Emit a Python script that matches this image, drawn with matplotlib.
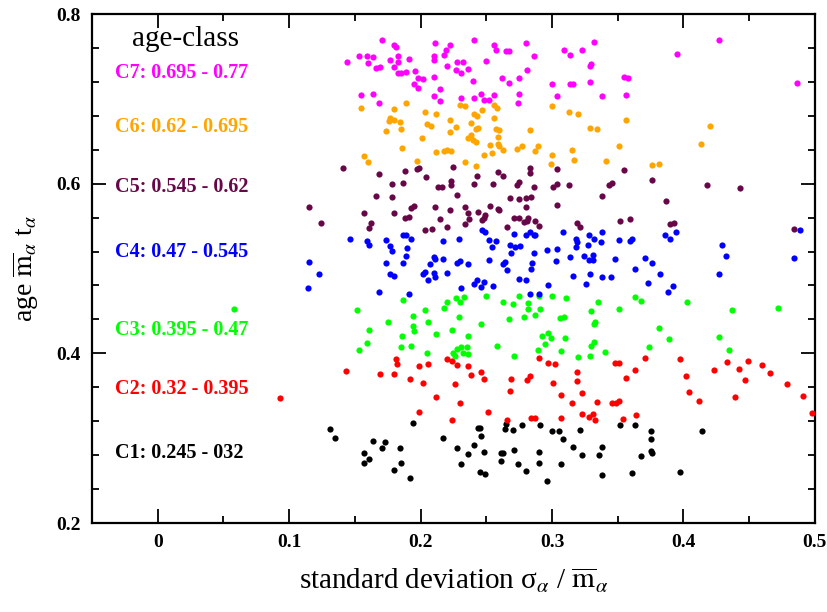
import matplotlib
matplotlib.use('Agg')
import matplotlib.pyplot as plt
from matplotlib.ticker import MultipleLocator
import numpy as np

plt.rcParams['font.family'] = ['Liberation Serif', 'DejaVu Serif']
plt.rcParams['mathtext.fontset'] = 'stix'

# (sigma/m, age) per age class
c7 = np.array([
    (0.171,0.769),(0.180,0.764),(0.181,0.761),(0.211,0.766),(0.222,0.764),(0.241,0.769),(0.256,0.764),
    (0.257,0.758),(0.280,0.766),(0.309,0.758),(0.314,0.752),(0.153,0.751),(0.159,0.750),(0.164,0.749),
    (0.144,0.743),(0.160,0.742),(0.166,0.736),(0.169,0.737),(0.177,0.746),(0.183,0.750),(0.183,0.743),
    (0.191,0.747),(0.180,0.737),(0.183,0.731),(0.185,0.731),(0.189,0.732),(0.196,0.733),(0.198,0.725),
    (0.202,0.723),(0.195,0.717),(0.198,0.713),(0.210,0.750),(0.210,0.746),(0.219,0.757),(0.218,0.752),
    (0.220,0.739),(0.228,0.743),(0.232,0.744),(0.227,0.734),(0.231,0.730),(0.236,0.735),(0.210,0.726),
    (0.215,0.712),(0.210,0.703),(0.215,0.698),(0.240,0.721),(0.250,0.745),(0.231,0.701),(0.241,0.701),
    (0.246,0.706),(0.248,0.699),(0.252,0.699),(0.256,0.705),(0.262,0.725),(0.265,0.756),(0.267,0.756),
    (0.267,0.719),(0.275,0.725),(0.281,0.734),(0.286,0.750),(0.275,0.706),(0.274,0.695),(0.300,0.717),
    (0.304,0.703),(0.314,0.718),(0.155,0.704),(0.164,0.706),(0.168,0.695),(0.316,0.717),(0.332,0.767),
    (0.323,0.758),(0.330,0.741),(0.329,0.739),(0.329,0.720),(0.338,0.703),(0.356,0.705),(0.355,0.726),
    (0.358,0.725),(0.395,0.753),(0.427,0.769),(0.486,0.719)])

c6 = np.array([
    (0.155,0.689),(0.180,0.688),(0.189,0.695),(0.177,0.678),(0.176,0.674),(0.180,0.675),(0.184,0.673),
    (0.174,0.662),(0.185,0.664),(0.203,0.685),(0.212,0.682),(0.205,0.670),(0.208,0.668),(0.201,0.654),
    (0.222,0.675),(0.227,0.667),(0.222,0.661),(0.230,0.693),(0.234,0.691),(0.247,0.687),(0.241,0.682),
    (0.243,0.680),(0.238,0.672),(0.242,0.665),(0.244,0.666),(0.236,0.654),(0.238,0.657),(0.240,0.651),
    (0.242,0.649),(0.256,0.693),(0.258,0.689),(0.256,0.678),(0.257,0.665),(0.260,0.663),(0.259,0.655),
    (0.253,0.646),(0.259,0.647),(0.260,0.644),(0.263,0.640),(0.254,0.636),(0.248,0.634),(0.186,0.642),
    (0.157,0.633),(0.160,0.626),(0.197,0.627),(0.212,0.637),(0.218,0.638),(0.220,0.640),(0.223,0.639),
    (0.234,0.625),(0.242,0.621),(0.273,0.641),(0.277,0.645),(0.287,0.638),(0.289,0.645),(0.283,0.663),
    (0.300,0.691),(0.313,0.684),(0.315,0.640),(0.300,0.634),(0.299,0.623),(0.317,0.628),(0.320,0.682),
    (0.329,0.666),(0.334,0.665),(0.356,0.675),(0.351,0.645),(0.341,0.627),(0.376,0.622),(0.381,0.623),
    (0.420,0.668),(0.413,0.647)])

c5 = np.array([
    (0.141,0.618),(0.168,0.612),(0.188,0.615),(0.197,0.617),(0.199,0.619),(0.204,0.608),(0.178,0.600),
    (0.187,0.601),(0.225,0.620),(0.223,0.603),(0.223,0.599),(0.213,0.596),(0.216,0.596),(0.243,0.609),
    (0.241,0.600),(0.255,0.600),(0.259,0.614),(0.263,0.609),(0.273,0.598),(0.275,0.602),(0.283,0.618),
    (0.283,0.613),(0.286,0.596),(0.304,0.617),(0.301,0.596),(0.304,0.600),(0.313,0.598),(0.166,0.586),
    (0.178,0.584),(0.228,0.587),(0.268,0.583),(0.275,0.582),(0.280,0.583),(0.284,0.584),(0.280,0.573),
    (0.304,0.575),(0.157,0.565),(0.162,0.554),(0.161,0.548),(0.180,0.565),(0.193,0.571),(0.195,0.574),
    (0.188,0.560),(0.191,0.561),(0.203,0.545),(0.209,0.546),(0.211,0.572),(0.215,0.558),(0.220,0.549),
    (0.222,0.569),(0.234,0.573),(0.236,0.566),(0.237,0.558),(0.234,0.552),(0.244,0.567),(0.253,0.574),
    (0.249,0.563),(0.248,0.560),(0.247,0.557),(0.259,0.570),(0.260,0.569),(0.266,0.549),(0.271,0.559),
    (0.275,0.559),(0.279,0.555),(0.281,0.556),(0.282,0.560),(0.287,0.556),(0.290,0.550),(0.343,0.599),
    (0.346,0.601),(0.376,0.604),(0.338,0.585),(0.387,0.580),(0.418,0.598),(0.443,0.595),(0.319,0.554),
    (0.321,0.549),(0.352,0.556),(0.359,0.558),(0.390,0.553),(0.393,0.554),(0.484,0.547),(0.355,0.616),
    (0.115,0.573),(0.124,0.554)])

c4 = np.array([
    (0.115,0.508),(0.123,0.493),(0.114,0.477),(0.146,0.535),(0.159,0.533),(0.161,0.528),(0.174,0.534),
    (0.177,0.527),(0.178,0.521),(0.187,0.539),(0.189,0.540),(0.193,0.535),(0.190,0.524),(0.189,0.515),
    (0.187,0.507),(0.174,0.506),(0.177,0.494),(0.180,0.491),(0.168,0.472),(0.191,0.470),(0.217,0.532),
    (0.229,0.535),(0.210,0.514),(0.211,0.511),(0.217,0.511),(0.207,0.505),(0.228,0.506),(0.230,0.509),
    (0.236,0.505),(0.203,0.496),(0.202,0.493),(0.210,0.495),(0.211,0.490),(0.206,0.486),(0.220,0.495),
    (0.247,0.545),(0.249,0.543),(0.252,0.534),(0.257,0.532),(0.254,0.525),(0.252,0.510),(0.264,0.508),
    (0.263,0.505),(0.266,0.498),(0.268,0.528),(0.269,0.518),(0.272,0.525),(0.276,0.526),(0.271,0.541),
    (0.280,0.539),(0.283,0.543),(0.286,0.540),(0.287,0.540),(0.286,0.518),(0.285,0.506),(0.284,0.500),
    (0.275,0.488),(0.280,0.486),(0.243,0.487),(0.241,0.482),(0.248,0.484),(0.246,0.478),(0.255,0.479),
    (0.231,0.477),(0.283,0.470),(0.290,0.470),(0.297,0.480),(0.296,0.522),(0.304,0.523),(0.308,0.543),
    (0.314,0.513),(0.303,0.509),(0.316,0.491),(0.318,0.535),(0.319,0.531),(0.318,0.525),(0.328,0.539),
    (0.332,0.535),(0.338,0.543),(0.337,0.531),(0.327,0.528),(0.324,0.515),(0.331,0.516),(0.328,0.510),
    (0.331,0.510),(0.329,0.494),(0.338,0.490),(0.345,0.490),(0.326,0.482),(0.348,0.511),(0.351,0.534),
    (0.359,0.532),(0.361,0.535),(0.363,0.500),(0.371,0.512),(0.376,0.506),(0.373,0.483),(0.382,0.494),
    (0.386,0.539),(0.390,0.535),(0.394,0.543),(0.388,0.472),(0.392,0.479),(0.429,0.528),(0.432,0.515),
    (0.427,0.493),(0.489,0.545),(0.484,0.512)])

c3 = np.array([
    (0.058,0.452),(0.187,0.463),(0.152,0.451),(0.175,0.437),(0.161,0.428),(0.159,0.412),(0.153,0.404),
    (0.194,0.444),(0.194,0.432),(0.195,0.426),(0.186,0.421),(0.185,0.408),(0.193,0.409),(0.203,0.451),
    (0.206,0.437),(0.212,0.423),(0.205,0.401),(0.220,0.460),(0.218,0.454),(0.227,0.465),(0.230,0.460),
    (0.233,0.466),(0.229,0.443),(0.224,0.428),(0.236,0.420),(0.228,0.405),(0.231,0.407),(0.235,0.407),
    (0.225,0.401),(0.226,0.397),(0.232,0.401),(0.236,0.399),(0.250,0.468),(0.246,0.435),(0.258,0.409),
    (0.263,0.461),(0.270,0.458),(0.267,0.441),(0.275,0.468),(0.282,0.459),(0.282,0.452),(0.279,0.443),
    (0.287,0.445),(0.291,0.452),(0.290,0.468),(0.300,0.468),(0.311,0.465),(0.306,0.442),(0.309,0.443),
    (0.292,0.420),(0.297,0.424),(0.299,0.418),(0.295,0.411),(0.310,0.418),(0.289,0.404),(0.307,0.403),
    (0.271,0.397),(0.335,0.460),(0.330,0.450),(0.351,0.452),(0.363,0.466),(0.368,0.462),(0.403,0.460),
    (0.437,0.451),(0.472,0.453),(0.332,0.435),(0.333,0.437),(0.381,0.430),(0.389,0.417),(0.427,0.419),
    (0.332,0.413),(0.330,0.409),(0.340,0.402),(0.374,0.408),(0.435,0.404),(0.320,0.396),(0.329,0.397)])

c2 = np.array([
    (0.093,0.347),(0.143,0.379),(0.169,0.376),(0.180,0.376),(0.181,0.393),(0.182,0.387),(0.192,0.370),
    (0.199,0.385),(0.206,0.387),(0.202,0.365),(0.212,0.348),(0.199,0.331),(0.220,0.393),(0.224,0.391),
    (0.228,0.386),(0.226,0.364),(0.230,0.341),(0.224,0.321),(0.236,0.385),(0.238,0.374),(0.246,0.378),
    (0.248,0.370),(0.251,0.331),(0.269,0.370),(0.268,0.356),(0.266,0.322),(0.281,0.369),(0.283,0.373),
    (0.290,0.394),(0.297,0.389),(0.302,0.388),(0.301,0.365),(0.307,0.351),(0.315,0.341),(0.284,0.324),
    (0.287,0.324),(0.307,0.324),(0.319,0.378),(0.319,0.367),(0.323,0.353),(0.323,0.328),(0.328,0.325),
    (0.331,0.328),(0.333,0.321),(0.334,0.343),(0.346,0.341),(0.349,0.341),(0.351,0.344),(0.354,0.323),
    (0.364,0.327),(0.348,0.389),(0.351,0.389),(0.356,0.371),(0.363,0.380),(0.371,0.394),(0.397,0.393),
    (0.402,0.373),(0.404,0.354),(0.412,0.344),(0.423,0.380),(0.433,0.390),(0.442,0.382),(0.449,0.391),
    (0.447,0.368),(0.439,0.348),(0.460,0.386),(0.466,0.377),(0.479,0.364),(0.491,0.350),(0.498,0.330)])

c1 = np.array([
    (0.131,0.311),(0.135,0.300),(0.164,0.297),(0.173,0.295),(0.171,0.288),(0.157,0.283),(0.161,0.275),
    (0.157,0.271),(0.184,0.288),(0.185,0.271),(0.180,0.262),(0.192,0.253),(0.194,0.318),(0.217,0.300),
    (0.228,0.288),(0.231,0.269),(0.236,0.281),(0.241,0.292),(0.244,0.312),(0.245,0.312),(0.246,0.303),
    (0.248,0.284),(0.245,0.260),(0.249,0.258),(0.265,0.317),(0.264,0.311),(0.270,0.310),(0.277,0.315),
    (0.261,0.282),(0.263,0.282),(0.261,0.273),(0.271,0.286),(0.274,0.269),(0.280,0.261),(0.291,0.316),
    (0.290,0.284),(0.290,0.271),(0.296,0.250),(0.300,0.309),(0.305,0.308),(0.308,0.299),(0.307,0.270),
    (0.316,0.290),(0.321,0.310),(0.323,0.280),(0.336,0.280),(0.338,0.290),(0.338,0.257),(0.352,0.315),
    (0.363,0.315),(0.361,0.259),(0.368,0.279),(0.375,0.308),(0.375,0.299),(0.375,0.285),(0.376,0.283),
    (0.397,0.260),(0.414,0.309)])

class_labels = ['C1: 0.245 - 032', 'C2: 0.32 - 0.395', 'C3: 0.395 - 0.47', 'C4: 0.47 - 0.545',
                'C5: 0.545 - 0.62', 'C6: 0.62 - 0.695', 'C7: 0.695 - 0.77']
class_colors = ['black', '#ff0000', '#00ff00', '#0000ff', '#670748', '#ffa500', '#ff00ff']
label_y = [0.2825, 0.358, 0.4275, 0.519, 0.596, 0.667, 0.730]

fig = plt.figure(figsize=(8.27, 6.12), dpi=100)
ax = fig.add_axes([0.1112, 0.1454, 0.8742, 0.8317])

for pts, col in zip([c1, c2, c3, c4, c5, c6, c7], class_colors):
    ax.scatter(pts[:, 0], pts[:, 1], s=20, color=col, linewidths=0, zorder=3)

for lab, col, ly in zip(class_labels, class_colors, label_y):
    ax.text(-0.0325, ly, lab, color=col, fontsize=14.5, fontweight='bold', va='center', ha='left')
ax.text(0.021, 0.7705, 'age-class', fontsize=21, ha='center', va='center')

ax.set_xlim(-0.05, 0.5)
ax.set_ylim(0.2, 0.8)
ax.xaxis.set_major_locator(MultipleLocator(0.1))
ax.xaxis.set_minor_locator(MultipleLocator(0.05))
ax.yaxis.set_major_locator(MultipleLocator(0.2))
ax.yaxis.set_minor_locator(MultipleLocator(0.04))
ax.xaxis.set_major_formatter(plt.FuncFormatter(lambda v, p: '0' if abs(v) < 1e-9 else f'{v:g}'))
ax.tick_params(which='both', direction='in', top=True, right=True, width=1.3)
ax.tick_params(which='major', length=10, labelsize=14, pad=8)
ax.tick_params(which='minor', length=5)
for lbl in ax.get_xticklabels() + ax.get_yticklabels():
    lbl.set_fontweight('bold')
for sp in ax.spines.values():
    sp.set_linewidth(1.6)

ax.set_xlabel('standard deviation σ$_{\\alpha}$ / $\\overline{\\mathrm{m}}_{\\alpha}$', fontsize=21)
ax.set_ylabel('age $\\overline{\\mathrm{m}}_{\\alpha}$ t$_{\\alpha}$', fontsize=20)
ax.xaxis.set_label_coords(0.5, -0.085)
ax.yaxis.set_label_coords(-0.071, 0.5)

fig.savefig('out.png', dpi=100)
